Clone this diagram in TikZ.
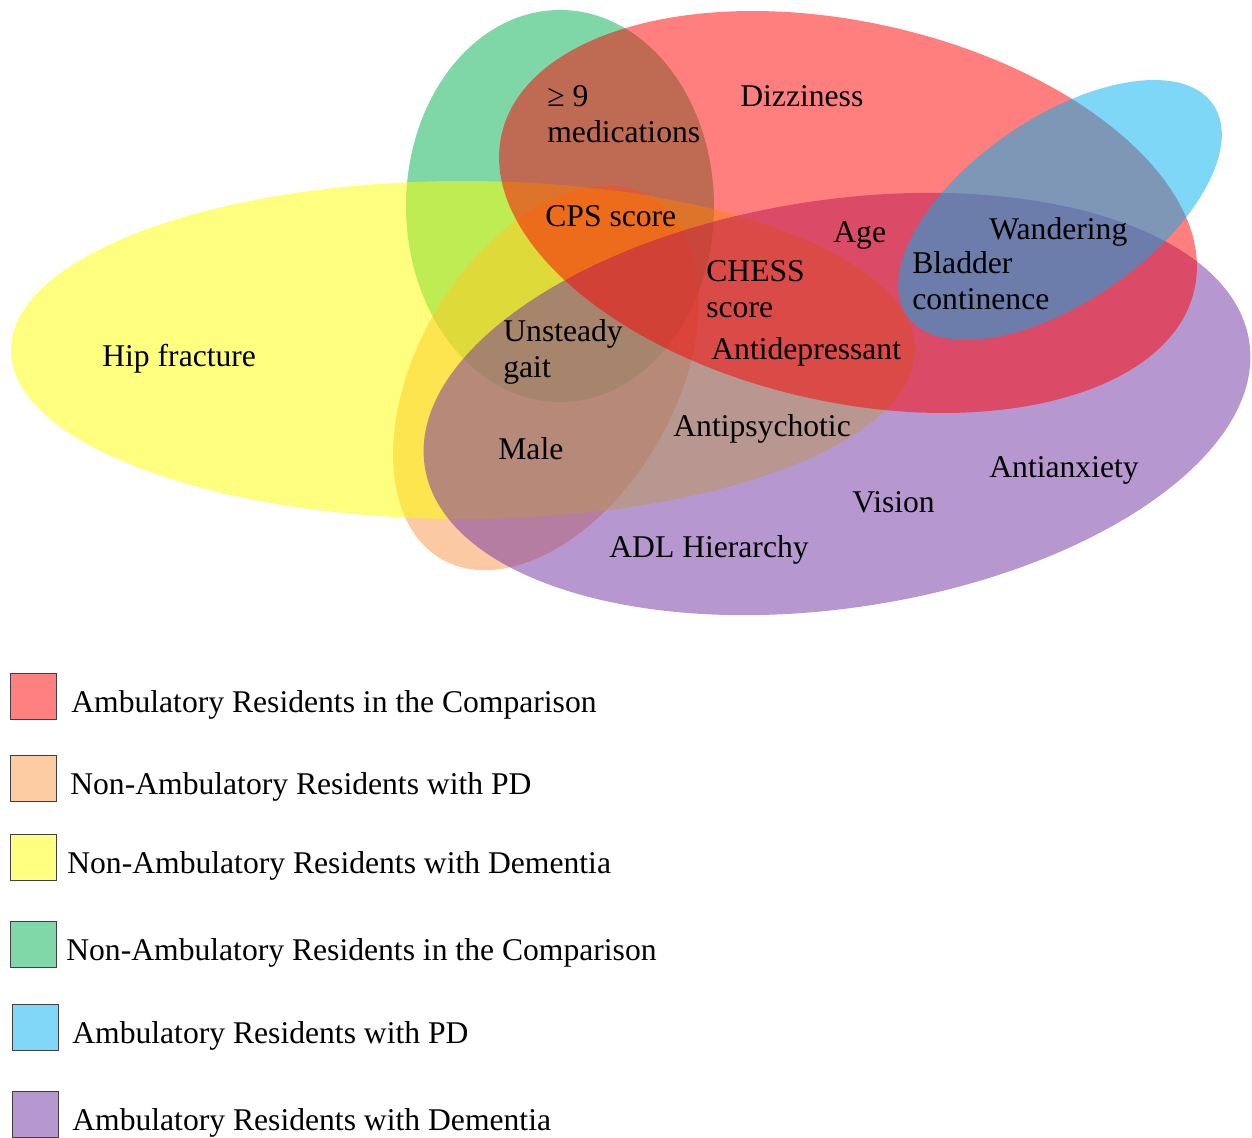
\documentclass[tikz,border=0pt]{standalone}
\usepackage{fontspec}
\setmainfont{Liberation Serif}
\usepackage{tikz}
\usetikzlibrary{positioning}
\definecolor{ambcomp}{HTML}{FF0000}
\definecolor{nonambpd}{HTML}{F79646}
\definecolor{nonambdem}{HTML}{FFFF00}
\definecolor{nonambcomp}{HTML}{00B050}
\definecolor{ambpd}{HTML}{00B0F0}
\definecolor{ambdem}{HTML}{7030A0}

\begin{document}
\begin{tikzpicture}[x=0.02cm, y=-0.02cm, font=\fontsize{18}{20.7}\selectfont,
    set/.style={fill=#1, fill opacity=0.5},
    lbl/.style={anchor=base west, inner sep=0pt, align=left},
    key/.style={draw=black!75, line width=0.8pt, fill=#1!50, anchor=north west,
      minimum size=0.92cm, inner sep=0pt}]
  \useasboundingbox (0,0) rectangle (1252,1138);
  % the six sets, back to front
  \fill[set=nonambcomp] (560,206) ellipse [x radius=154, y radius=196];
  \fill[set=nonambpd, rotate around={60:(546,378)}] (546,378) ellipse [x radius=209, y radius=129];
  \fill[set=nonambdem] (463,350) ellipse [x radius=452, y radius=169];
  \fill[set=ambdem, rotate around={8.6:(837,404)}] (837,404) ellipse [x radius=417, y radius=204];
  \fill[set=ambcomp, rotate around={-12.6:(848,212)}] (848,212) ellipse [x radius=355, y radius=190];
  \fill[set=ambpd, rotate around={34.6:(1060,210)}] (1060,210) ellipse [x radius=186, y radius=92];
  % factors (two-line labels sit on their last baseline)
  \node[lbl] (meds) at (547,143) {≥ 9\\medications};
  \node[lbl] (dizzy) at (740,107) {Dizziness};
  \node[lbl] (cps) at (545,227) {CPS score};
  \node[lbl] (age) at (833,243) {Age};
  \node[lbl] (wander) at (989,240) {Wandering};
  \node[lbl] (chess) at (706,318) {CHESS\\score};
  \node[lbl] (bladder) at (912,310) {Bladder\\continence};
  \node[lbl] (antidep) at (711,360) {Antidepressant};
  \node[lbl] (gait) at (503,378) {Unsteady\\gait};
  \node[lbl] (hip) at (102,367) {Hip fracture};
  \node[lbl] (antipsy) at (673,437) {Antipsychotic};
  \node[lbl] (male) at (498,460) {Male};
  \node[lbl] (antianx) at (989,478) {Antianxiety};
  \node[lbl] (vision) at (852,513) {Vision};
  \node[lbl] (adl) at (609,558) {ADL Hierarchy};
  % legend
  \foreach \c/\sx/\sy/\tx/\t [count=\i] in {
      ambcomp/10/673/71/Ambulatory Residents in the Comparison,
      nonambpd/10/755/70/Non-Ambulatory Residents with PD,
      nonambdem/10/834/67/Non-Ambulatory Residents with Dementia,
      nonambcomp/10/921/66/Non-Ambulatory Residents in the Comparison,
      ambpd/12/1004/72/Ambulatory Residents with PD,
      ambdem/12/1091/72/Ambulatory Residents with Dementia}{
    \node[key=\c] (key\i) at (\sx,\sy) {};
    \node[lbl] (leg\i) at (\tx,\sy+39) {\t};
  }
\end{tikzpicture}
\end{document}
